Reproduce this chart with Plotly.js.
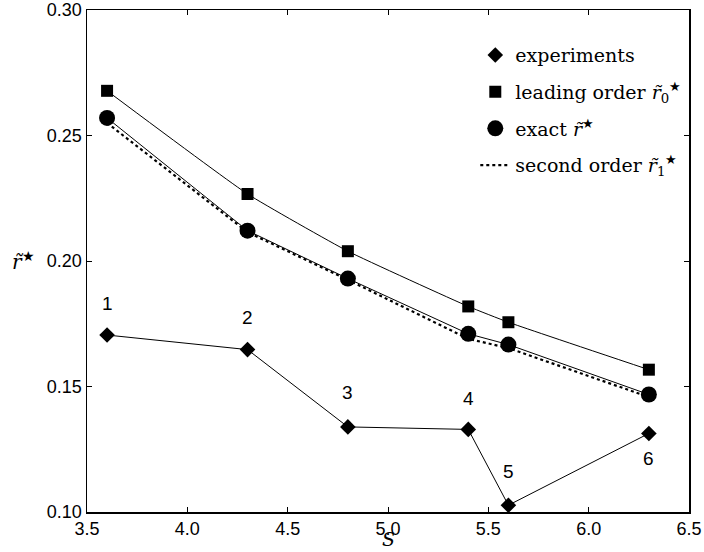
<!DOCTYPE html>
<html>
<head>
<meta charset="utf-8">
<script src="https://cdn.plot.ly/plotly-3.0.1.min.js"></script>
<style>html,body{margin:0;padding:0;background:#fff;}#chart{width:704px;height:552px;}</style>
</head>
<body>
<div id="chart"></div>
<script>
// ---- data ----
const S = [3.6, 4.3, 4.8, 5.4, 5.6, 6.3];
const experiments = [0.1705, 0.1647, 0.1339, 0.1329, 0.1027, 0.1313];
const leadingOrder = [0.2678, 0.2267, 0.2039, 0.1819, 0.1756, 0.1567];
const exact = [0.2570, 0.2121, 0.1930, 0.1710, 0.1667, 0.1468];
const secondOrder = [0.2550, 0.2115, 0.1925, 0.1690, 0.1653, 0.1458];
const runLabels = ['1', '2', '3', '4', '5', '6'];
const labelY = [0.1829, 0.1773, 0.1475, 0.1453, 0.1163, 0.1212];
const xTicks = [3.5, 4.0, 4.5, 5.0, 5.5, 6.0, 6.5];
const yTicks = [0.10, 0.15, 0.20, 0.25, 0.30];

const serif = 'DejaVu Serif, serif';
const sans = 'Liberation Sans, Arial, sans-serif';

const traces = [
  {x: S, y: secondOrder, mode: 'lines', line: {color: '#000', width: 2.2, dash: 'dot'}, showlegend: false, hoverinfo: 'skip'},
  {x: S, y: exact, mode: 'lines+markers', line: {color: '#000', width: 1}, marker: {symbol: 'circle', size: 16, color: '#000'}, showlegend: false},
  {x: S, y: leadingOrder, mode: 'lines+markers', line: {color: '#000', width: 1, shape: 'spline', smoothing: 0.4}, marker: {symbol: 'square', size: 12, color: '#000'}, showlegend: false},
  {x: S, y: experiments, mode: 'lines+markers', line: {color: '#000', width: 1}, marker: {symbol: 'diamond', size: 12, color: '#000'}, showlegend: false},
  // legend entries
  {x: [null], y: [null], mode: 'markers', marker: {symbol: 'diamond', size: 12, color: '#000'}, name: 'experiments', legendgroup: 'a'},
  {x: [null], y: [null], mode: 'markers', marker: {symbol: 'square', size: 12, color: '#000'}, name: 'leading order <i>r̃</i><sub>0</sub><sup>★</sup>', legendgroup: 'b'},
  {x: [null], y: [null], mode: 'markers', marker: {symbol: 'circle', size: 16, color: '#000'}, name: 'exact <i>r̃</i><sup>★</sup>', legendgroup: 'c'},
  {x: [null], y: [null], mode: 'lines', line: {color: '#000', width: 2.2, dash: 'dot'}, name: 'second order <i>r̃</i><sub>1</sub><sup>★</sup>', legendgroup: 'd'}
];

const annotations = S.map((s, i) => ({
  x: s, y: labelY[i], xref: 'x', yref: 'y', text: runLabels[i], showarrow: false,
  font: {family: sans, size: 19, color: '#000'}, xanchor: 'center', yanchor: 'middle'
}));
annotations.push({
  x: -0.105, y: 0.20, xref: 'paper', yref: 'y', text: '<i>r̃</i><sup>★</sup>', showarrow: false,
  font: {family: serif, size: 20, color: '#000'}, xanchor: 'center', yanchor: 'middle'
});
annotations.push({
  x: 0.5, y: -0.078, xref: 'paper', yref: 'paper', text: '<i>S</i>', showarrow: false,
  font: {family: serif, size: 19, color: '#000'}, xanchor: 'center', yanchor: 'bottom', borderpad: 0
});

const axisCommon = {
  showgrid: false, zeroline: false, showline: true, linecolor: '#000', linewidth: 1.5,
  mirror: 'ticks', ticks: 'inside', ticklen: 5, tickwidth: 1, tickcolor: '#000',
  tickfont: {family: sans, size: 18, color: '#000'}
};

const layout = {
  width: 704, height: 552,
  margin: {l: 87, r: 15, t: 10, b: 40},
  paper_bgcolor: '#fff', plot_bgcolor: '#fff',
  xaxis: Object.assign({}, axisCommon, {
    range: [3.5, 6.5], tickvals: xTicks, ticktext: xTicks.map(v => v.toFixed(1)),
    automargin: false
  }),
  yaxis: Object.assign({}, axisCommon, {
    range: [0.10, 0.30], tickvals: yTicks, ticktext: yTicks.map(v => v.toFixed(2)), automargin: false
  }),
  showlegend: true,
  legend: {
    x: 0.645, y: 0.948, xanchor: 'left', yanchor: 'top', bgcolor: 'rgba(0,0,0,0)',
    font: {family: serif, size: 19, color: '#000'}, traceorder: 'grouped', tracegroupgap: 9,
    itemsizing: 'trace'
  },
  annotations: annotations
};

Plotly.newPlot('chart', traces, layout, {displayModeBar: false, staticPlot: true});
</script>
</body>
</html>
